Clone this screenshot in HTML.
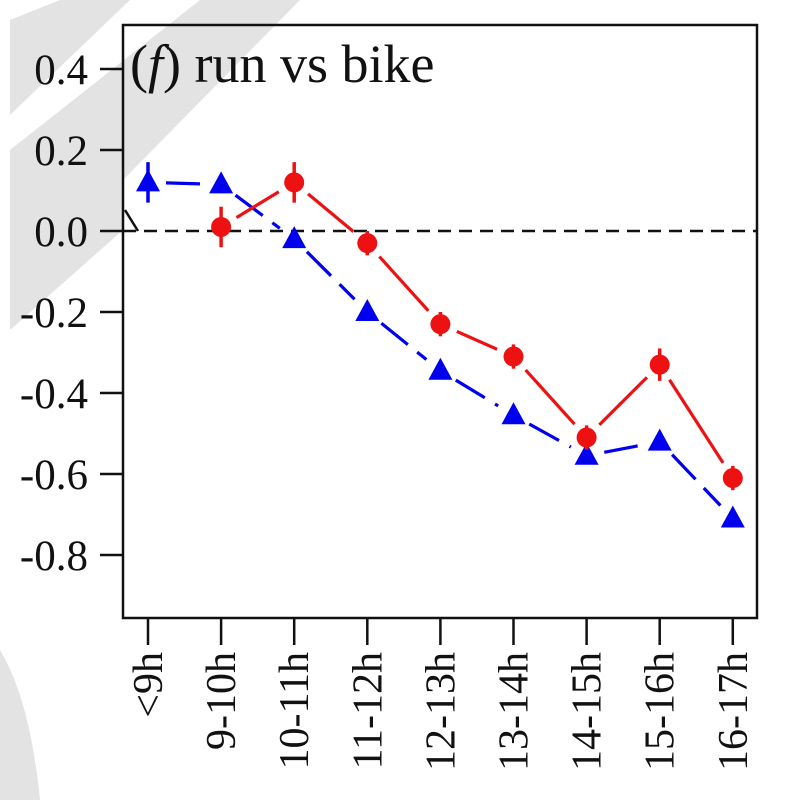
<!DOCTYPE html>
<html><head><meta charset="utf-8"><style>body{margin:0;background:#fff}svg{display:block}text{font-family:"Liberation Serif",serif;fill:#111}</style></head>
<body>
<svg id="c" width="800" height="800" viewBox="0 0 800 800">
<g fill="#e3e3e3">
<polygon points="10,20 60,0 130,0 10,115"/>
<polygon points="10,150 200,0 300,0 123,180 123,230 10,330"/>
<path d="M0,650 Q30,700 40,800 L0,800 Z"/>
</g>
<rect x="123" y="25" width="634" height="593" fill="none" stroke="#111" stroke-width="2.5"/>
<text x="130" y="82" font-size="54">(<tspan font-style="italic">f</tspan>) run vs bike</text>
<g id="yaxis"></g>
<g id="xaxis"></g>
<line x1="123" x2="757" y1="231" y2="231" stroke="#111" stroke-width="2.5" stroke-dasharray="13,8"/>
<line x1="125" y1="210" x2="138" y2="231" stroke="#111" stroke-width="2.5"/>
<g id="series"></g>
</svg>
<script>
const categories=["<9h","9-10h","10-11h","11-12h","12-13h","13-14h","14-15h","15-16h","16-17h"];
const blueValues=[0.12,0.115,-0.02,-0.2,-0.345,-0.455,-0.555,-0.52,-0.71];
const blueErr=[0.05,0,0,0,0,0,0,0,0];
const redValues=[null,0.01,0.12,-0.03,-0.23,-0.31,-0.51,-0.33,-0.61];
const redErr=[null,0.05,0.05,0.03,0.03,0.03,0.03,0.04,0.03];
const yTicks=[0.4,0.2,0.0,-0.2,-0.4,-0.6,-0.8];
const yTickLabels=["0.4","0.2","0.0","-0.2","-0.4","-0.6","-0.8"];
const NS="http://www.w3.org/2000/svg";
const y=v=>231-v*405;
const x=i=>148+i*73.1;
function mk(t,a,p){const e=document.createElementNS(NS,t);for(const k in a)e.setAttribute(k,a[k]);p.appendChild(e);return e;}
const ya=document.getElementById('yaxis'),xa=document.getElementById('xaxis'),sr=document.getElementById('series');
yTicks.forEach((v,i)=>{
 const l=mk('line',{x1:100,x2:123,y1:y(v),y2:y(v),stroke:'#111','stroke-width':2.5},ya);
 
 
 const t=mk('text',{x:88,y:y(v)+15,'font-size':43,'text-anchor':'end'},ya);t.textContent=yTickLabels[i];
 
 
});
categories.forEach((c,i)=>{
 const l=mk('line',{x1:x(i),x2:x(i),y1:618,y2:645,stroke:'#111','stroke-width':2.5},xa);
 
 
 const t=mk('text',{x:0,y:0,'font-size':42,'text-anchor':'end',transform:`translate(${x(i)+14},652) rotate(-90)`},xa);t.textContent=c;
 
 
});
function segs(vals,color,dash){
 for(let i=0;i<vals.length-1;i++){
  if(vals[i]==null||vals[i+1]==null)continue;
  const x1=x(i),y1=y(vals[i]),x2=x(i+1),y2=y(vals[i+1]);
  const d=Math.hypot(x2-x1,y2-y1),g=18;
  const ux=(x2-x1)/d,uy=(y2-y1)/d;
  const l=mk('line',{x1:x1+ux*g,y1:y1+uy*g,x2:x2-ux*g,y2:y2-uy*g,stroke:color,'stroke-width':3.2,'stroke-dasharray':dash},sr);
  
  
 }
}
segs(blueValues,'#0000ee','34,12');
segs(redValues,'#ee1111','none');
blueValues.forEach((v,i)=>{
 if(blueErr[i]){const e=mk('line',{x1:x(i),x2:x(i),y1:y(v+blueErr[i]),y2:y(v-blueErr[i]),stroke:'#0000ee','stroke-width':3.5},sr);
 
 }
 const cx=x(i),cy=y(v);
 const p=mk('polygon',{points:`${cx},${cy-13} ${cx-12},${cy+9} ${cx+12},${cy+9}`,fill:'#0000ee'},sr);
 
 
});
redValues.forEach((v,i)=>{
 if(v==null)return;
 const e=mk('line',{x1:x(i),x2:x(i),y1:y(v+redErr[i]),y2:y(v-redErr[i]),stroke:'#ee1111','stroke-width':3.5},sr);
 
 
 const c=mk('circle',{cx:x(i),cy:y(v),r:10,fill:'#ee1111'},sr);
 
 
});
</script>
</body></html>
